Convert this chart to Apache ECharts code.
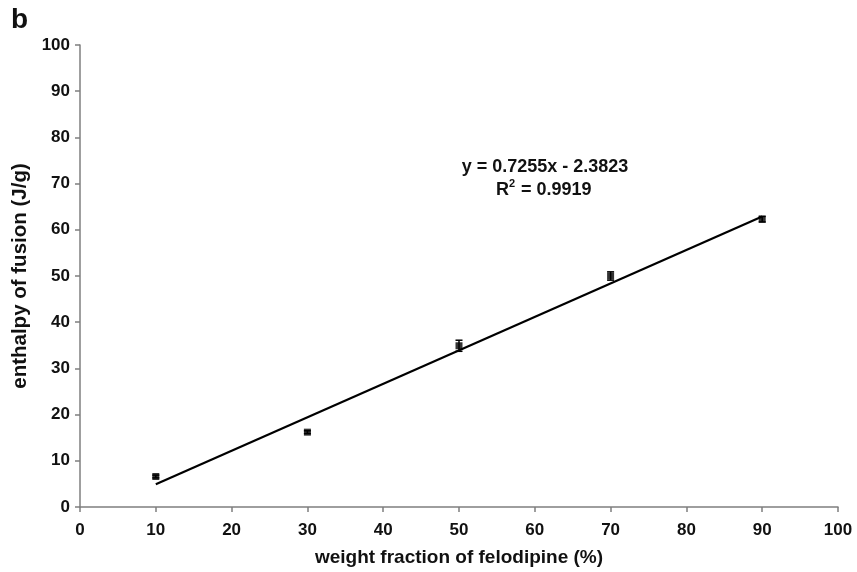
<!DOCTYPE html>
<html>
<head>
<meta charset="utf-8">
<script src="https://cdn.jsdelivr.net/npm/echarts@6/dist/echarts.min.js"></script>
<style>
  html, body { margin: 0; padding: 0; background: #fff; }
  #chart { width: 857px; height: 572px; }
</style>
</head>
<body>
<div id="chart"></div>
<script>
// weight fraction of felodipine (%)
const fractions = [10, 30, 50, 70, 90];
// enthalpy of fusion (J/g)
const enthalpy = [6.6, 16.2, 34.9, 50.0, 62.3];
// error bar half-heights
const errors = [0.3, 0.3, 1.2, 0.9, 0.6];
// linear trendline end points, as drawn
const trendX = [10, 90];
const trendY = [4.9, 62.9];

const font = "Liberation Sans, Arial, sans-serif";
const axisGray = "#7f7f7f";
const ink = "#111";

const chart = echarts.init(document.getElementById("chart"), null, { renderer: "canvas" });

chart.setOption({
  animation: false,
  grid: { left: 80, right: 19, top: 45, bottom: 63, containLabel: false },
  xAxis: {
    type: "value",
    min: 0, max: 100, interval: 10,
    name: "weight fraction of felodipine (%)",
    nameLocation: "middle",
    nameGap: 41,
    nameTextStyle: { fontFamily: font, fontWeight: "bold", fontSize: 19, color: ink },
    axisLine: { show: true, onZero: false, lineStyle: { color: axisGray, width: 1.5 } },
    axisTick: { show: true, inside: false, length: 5, lineStyle: { color: axisGray, width: 1.5 } },
    axisLabel: { fontFamily: font, fontWeight: "bold", fontSize: 17, color: ink, margin: 15 },
    splitLine: { show: false }
  },
  yAxis: {
    type: "value",
    min: 0, max: 100, interval: 10,
    name: "enthalpy of fusion (J/g)",
    nameLocation: "middle",
    nameGap: 43,
    nameRotate: 90,
    nameTextStyle: { fontFamily: font, fontWeight: "bold", fontSize: 20.5, color: ink },
    axisLine: { show: true, onZero: false, lineStyle: { color: axisGray, width: 1.5 } },
    axisTick: { show: true, inside: false, length: 5, lineStyle: { color: axisGray, width: 1.5 } },
    axisLabel: { fontFamily: font, fontWeight: "bold", fontSize: 17, color: ink, margin: 10 },
    splitLine: { show: false }
  },
  graphic: [
    {
      type: "text", left: 11, top: 6,
      style: { text: "b", font: "bold 28px " + font, fill: ink }
    },
    {
      type: "text", x: 545, y: 158,
      style: {
        text: "y = 0.7255x - 2.3823",
        font: "bold 18px " + font, fill: ink,
        textAlign: "center", textVerticalAlign: "top"
      }
    },
    // R² line: base text plus a raised small "2"
    {
      type: "text", x: 496, y: 181,
      style: { text: "R", font: "bold 18px " + font, fill: ink, textVerticalAlign: "top" }
    },
    {
      type: "text", x: 509, y: 178,
      style: { text: "2", font: "bold 11px " + font, fill: ink, textVerticalAlign: "top" }
    },
    {
      type: "text", x: 516, y: 181,
      style: { text: " = 0.9919", font: "bold 18px " + font, fill: ink, textVerticalAlign: "top" }
    }
  ],
  series: [
    {
      type: "line",
      data: trendX.map((x, i) => [x, trendY[i]]),
      showSymbol: false,
      symbol: "none",
      lineStyle: { color: "#000", width: 2.2 },
      z: 2
    },
    {
      type: "custom",
      data: fractions.map((x, i) => [x, enthalpy[i] - errors[i], enthalpy[i] + errors[i]]),
      renderItem: (params, api) => {
        const lo = api.coord([api.value(0), api.value(1)]);
        const hi = api.coord([api.value(0), api.value(2)]);
        const w = 3.5;
        const st = { stroke: "#000", lineWidth: 1.5 };
        return {
          type: "group",
          children: [
            { type: "line", shape: { x1: lo[0], y1: lo[1], x2: hi[0], y2: hi[1] }, style: st },
            { type: "line", shape: { x1: lo[0] - w, y1: lo[1], x2: lo[0] + w, y2: lo[1] }, style: st },
            { type: "line", shape: { x1: hi[0] - w, y1: hi[1], x2: hi[0] + w, y2: hi[1] }, style: st }
          ]
        };
      },
      z: 3
    },
    {
      type: "scatter",
      data: fractions.map((x, i) => [x, enthalpy[i]]),
      symbol: "rect",
      symbolSize: 7,
      itemStyle: { color: "#000" },
      z: 4
    }
  ]
});
</script>
</body>
</html>
